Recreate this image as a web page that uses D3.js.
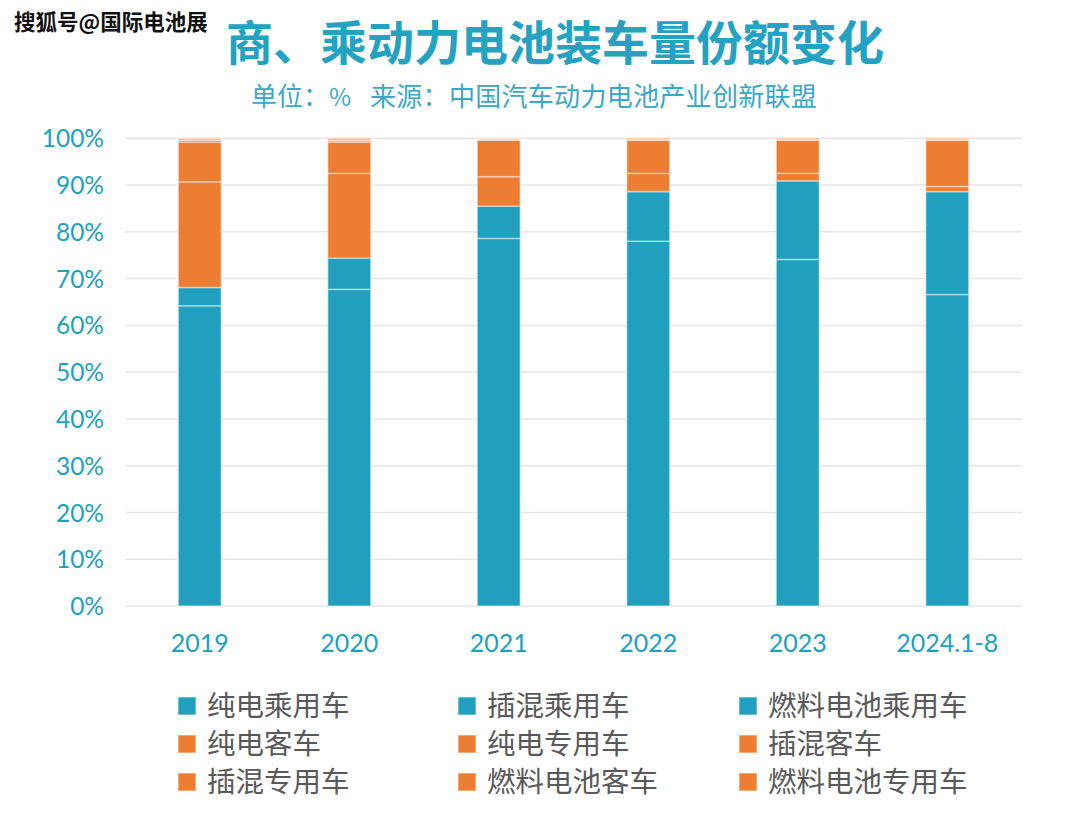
<!DOCTYPE html>
<html><head><meta charset="utf-8">
<script src="https://cdn.jsdelivr.net/npm/d3@7"></script>
<style>
html,body{margin:0;padding:0;background:#fff;}
svg{display:block;}
</style></head>
<body>
<script>
const categories = ["2019","2020","2021","2022","2023","2024.1-8"];
const seriesNames = ["纯电乘用车","插混乘用车","燃料电池乘用车","纯电客车","纯电专用车","插混客车","插混专用车","燃料电池客车","燃料电池专用车"];
const v纯电乘用车 = [64.2, 67.7, 78.6, 78.0, 74.1, 66.6];
const v插混乘用车 = [3.9, 6.7, 6.9, 10.6, 16.8, 22.0];
const v燃料电池乘用车 = [0, 0, 0, 0, 0, 0];
const v纯电客车 = [22.6, 18.1, 6.3, 3.9, 1.6, 1.1];
const v纯电专用车 = [8.5, 6.7, 7.8, 7.1, 7.1, 9.9];
const v插混客车 = [0.4, 0.3, 0.1, 0.1, 0.1, 0.1];
const v插混专用车 = [0, 0, 0, 0, 0, 0];
const v燃料电池客车 = [0.3, 0.2, 0.1, 0.1, 0.1, 0.1];
const v燃料电池专用车 = [0.1, 0.3, 0.1, 0.2, 0.2, 0.2];
const seriesValues = [v纯电乘用车, v插混乘用车, v燃料电池乘用车, v纯电客车, v纯电专用车, v插混客车, v插混专用车, v燃料电池客车, v燃料电池专用车];
const yTicks = [0,10,20,30,40,50,60,70,80,90,100];

const TEAL = "#209fbe", ORANGE = "#ed7d31";
const colors = [TEAL, TEAL, TEAL, ORANGE, ORANGE, ORANGE, ORANGE, ORANGE, ORANGE];

const W = 1080, H = 818;
const svg = d3.select("body").append("svg").attr("width", W).attr("height", H);

const table = categories.map((c, i) => {
  const row = {cat: c};
  seriesNames.forEach((s, j) => row[s] = seriesValues[j][i]);
  return row;
});
const stacked = d3.stack().keys(seriesNames)(table);

const x = d3.scaleBand().domain(categories).range([125, 1022]).paddingInner(0.712).paddingOuter(0.356);
const y = d3.scaleLinear().domain([0, 100]).range([606, 138.3]);

// grid
svg.append("g").selectAll("line").data(yTicks).join("line")
  .attr("x1", 125).attr("x2", 1022)
  .attr("y1", d => y(d)).attr("y2", d => y(d))
  .attr("stroke", "#e6e6e6").attr("stroke-width", 1.5);

// y axis labels
const yAxis = d3.axisLeft(y).tickValues(yTicks).tickFormat(d => d + "%").tickSize(0).tickPadding(0);
const gy = svg.append("g").attr("transform", "translate(104,0)").call(yAxis);
gy.select(".domain").remove();
gy.selectAll("text").attr("fill", TEAL).attr("font-family", "Lato, 'Open Sans', sans-serif")
  .attr("font-size", 24.5).attr("dy", "0.35em");

// x axis labels
const xAxis = d3.axisBottom(x).tickSize(0).tickPadding(0);
const gx = svg.append("g").attr("transform", "translate(0,634)").call(xAxis);
gx.select(".domain").remove();
gx.selectAll("text").attr("fill", TEAL).attr("font-family", "Lato, 'Open Sans', sans-serif")
  .attr("font-size", 25).attr("dy", "0.72em");

// bars
svg.append("g").selectAll("g").data(stacked).join("g")
  .attr("fill", (d, i) => colors[i])
  .selectAll("rect").data(d => d).join("rect")
  .attr("x", d => x(d.data.cat))
  .attr("width", x.bandwidth())
  .attr("y", d => y(d[1]))
  .attr("height", d => Math.max(0, y(d[0]) - y(d[1])))
  .attr("stroke", "rgba(255,255,255,0.45)").attr("stroke-width", 1.5);

// title
svg.append("text").attr("x", 555).attr("y", 60).attr("text-anchor", "middle")
  .attr("font-family", "'Noto Sans CJK SC', sans-serif").attr("font-weight", "bold")
  .attr("font-size", 47).attr("fill", "#23a2c1").text("商、乘动力电池装车量份额变化");

// subtitle
const sub = svg.append("text").attr("y", 106)
  .attr("font-family", "'Noto Sans CJK SC', sans-serif")
  .attr("font-size", 26).attr("fill", "#3aa7c6");
sub.append("tspan").attr("x", 251).text("单位：");
sub.append("tspan").attr("x", 329).attr("font-size", 24).text("%");
sub.append("tspan").attr("x", 370).attr("letter-spacing", 0.3).text("来源：中国汽车动力电池产业创新联盟");

// watermark
svg.append("text").attr("x", 14).attr("y", 30)
  .attr("font-family", "'Noto Sans CJK SC', sans-serif").attr("font-weight", "bold")
  .attr("font-size", 21.5).attr("fill", "#111")
  .attr("stroke", "#fff").attr("stroke-width", 3).attr("paint-order", "stroke")
  .text("搜狐号@国际电池展");

// legend
const colX = [178, 458, 739];
const rowY = [706, 744, 782];
const lg = svg.append("g").selectAll("g").data(seriesNames).join("g")
  .attr("transform", (d, i) => `translate(${colX[i % 3]},${rowY[Math.floor(i / 3)]})`);
lg.append("rect").attr("x", 0).attr("y", -9).attr("width", 18).attr("height", 18)
  .attr("fill", (d, i) => colors[i])
  .attr("stroke", "rgba(255,255,255,0.45)").attr("stroke-width", 1.5);
lg.append("text").attr("x", 29).attr("y", 0).attr("dy", "0.36em")
  .attr("font-family", "'Noto Sans CJK SC', sans-serif")
  .attr("font-size", 28.5).attr("fill", "#595959").text(d => d);
</script>
</body></html>
